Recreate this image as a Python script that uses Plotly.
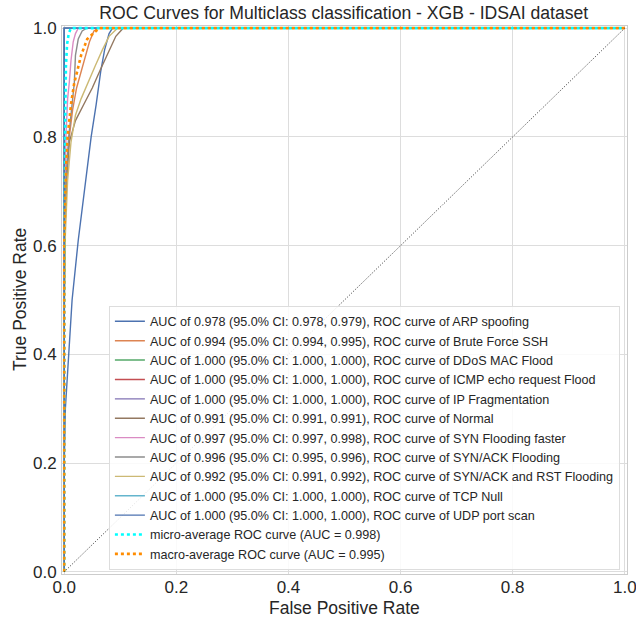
import plotly.graph_objects as go

# ---- data ----
class_names = ["ARP spoofing", "Brute Force SSH", "DDoS MAC Flood", "ICMP echo request Flood",
               "IP Fragmentation", "Normal", "SYN Flooding faster", "SYN/ACK Flooding",
               "SYN/ACK and RST Flooding", "TCP Null", "UDP port scan"]
auc_vals = [0.978, 0.994, 1.000, 1.000, 1.000, 0.991, 0.997, 0.996, 0.992, 1.000, 1.000]
ci_low = [0.978, 0.994, 1.000, 1.000, 1.000, 0.991, 0.997, 0.995, 0.991, 1.000, 1.000]
ci_high = [0.979, 0.995, 1.000, 1.000, 1.000, 0.991, 0.998, 0.996, 0.992, 1.000, 1.000]

fpr_arp = [0, 0, 0.002, 0.007, 0.014, 0.025, 0.036, 0.048, 0.057, 0.065, 0.072, 0.080, 0.086, 1]
tpr_arp = [0, 0.2, 0.30, 0.39, 0.50, 0.61, 0.70, 0.80, 0.86, 0.92, 0.96, 0.99, 1.0, 1]
fpr_brute = [0, 0, 0.002, 0.005, 0.009, 0.015, 0.022, 0.030, 0.037, 0.045, 0.053, 0.060, 1]
tpr_brute = [0, 0.5, 0.65, 0.74, 0.80, 0.85, 0.89, 0.92, 0.95, 0.975, 0.995, 1.0, 1]
fpr_perfect = [0, 0, 1]
tpr_perfect = [0, 1, 1]
fpr_normal = [0, 0, 0.002, 0.005, 0.009, 0.020, 0.035, 0.050, 0.065, 0.080, 0.092, 0.105, 1]
tpr_normal = [0, 0.5, 0.65, 0.73, 0.79, 0.83, 0.86, 0.89, 0.925, 0.96, 0.985, 1.0, 1]
fpr_synfast = [0, 0, 0.003, 0.006, 0.009, 0.012, 0.016, 0.020, 0.025, 1]
tpr_synfast = [0, 0.6, 0.80, 0.87, 0.90, 0.94, 0.975, 0.99, 1.0, 1]
fpr_synack = [0, 0, 0.003, 0.008, 0.014, 0.018, 0.020, 0.025, 0.032, 0.040, 1]
tpr_synack = [0, 0.6, 0.72, 0.80, 0.86, 0.90, 0.95, 0.98, 0.995, 1.0, 1]
fpr_synrst = [0, 0, 0.002, 0.006, 0.012, 0.020, 0.030, 0.042, 0.055, 0.068, 0.080, 0.095, 1]
tpr_synrst = [0, 0.45, 0.62, 0.72, 0.79, 0.84, 0.87, 0.90, 0.93, 0.96, 0.985, 1.0, 1]

fpr_list = [fpr_arp, fpr_brute, fpr_perfect, fpr_perfect, fpr_perfect, fpr_normal,
            fpr_synfast, fpr_synack, fpr_synrst, fpr_perfect, fpr_perfect]
tpr_list = [tpr_arp, tpr_brute, tpr_perfect, tpr_perfect, tpr_perfect, tpr_normal,
            tpr_synfast, tpr_synack, tpr_synrst, tpr_perfect, tpr_perfect]

fpr_micro = [0, 0, 0.002, 0.003, 0.005, 0.008, 0.012, 0.020, 1]
tpr_micro = [0, 0.5, 0.85, 0.93, 0.97, 0.99, 1.0, 1.0, 1]
auc_micro = 0.998
fpr_macro = [0, 0, 0.003, 0.006, 0.012, 0.018, 0.023, 0.030, 0.041, 0.052, 0.062, 0.070, 1]
tpr_macro = [0, 0.6, 0.74, 0.80, 0.86, 0.90, 0.92, 0.95, 0.98, 0.99, 1.0, 1.0, 1]
auc_macro = 0.995

diag = [0, 1]
ticks = [0.0, 0.2, 0.4, 0.6, 0.8, 1.0]
tick_text = ["0.0", "0.2", "0.4", "0.6", "0.8", "1.0"]

palette = ["#4C72B0", "#DD8452", "#55A868", "#C44E52", "#8172B3", "#937860",
           "#DA8BC3", "#8C8C8C", "#CCB974", "#64B5CD", "#4C72B0"]

fig = go.Figure()
for i, name in enumerate(class_names):
    fig.add_trace(go.Scatter(
        x=fpr_list[i], y=tpr_list[i], mode="lines",
        line=dict(color=palette[i], width=1.4),
        name=f"AUC of {auc_vals[i]:.3f} (95.0% CI: {ci_low[i]:.3f}, {ci_high[i]:.3f}), ROC curve of {name}",
    ))
fig.add_trace(go.Scatter(x=fpr_micro, y=tpr_micro, mode="lines",
                         line=dict(color="#00FFFF", width=2.6, dash="dot"),
                         name=f"micro-average ROC curve (AUC = {auc_micro:.3f})"))
fig.add_trace(go.Scatter(x=fpr_macro, y=tpr_macro, mode="lines",
                         line=dict(color="#FF8C00", width=2.6, dash="dot"),
                         name=f"macro-average ROC curve (AUC = {auc_macro:.3f})"))
fig.add_trace(go.Scatter(x=diag, y=diag, mode="lines",
                         line=dict(color="#333333", width=1, dash="1px,1.7px"),
                         showlegend=False, hoverinfo="skip"))

font_family = "Liberation Sans, Arial, sans-serif"
axis_common = dict(
    range=[-0.004, 1.004], tickvals=ticks, ticktext=tick_text,
    showgrid=True, gridcolor="#DDDDDD", gridwidth=1, automargin=False,
    zeroline=False, showline=True, linecolor="#CCCCCC", linewidth=1, mirror=True,
    ticks="", ticklabeloverflow="allow",
    tickfont=dict(size=17, color="#262626", family=font_family),
)
fig.update_layout(
    width=636, height=618,
    margin=dict(l=62, r=9, t=26, b=44),
    paper_bgcolor="white", plot_bgcolor="white",
    font=dict(family=font_family, color="#262626"),
    title=dict(text="ROC Curves for Multiclass classification - XGB - IDSAI dataset",
               x=0.5405, xanchor="center", y=0.979, yanchor="middle",
               font=dict(size=17.6, color="#262626")),
    xaxis=dict(**axis_common, ticklabelstandoff=-2),
    yaxis=dict(**axis_common, ticklabelstandoff=1),
    legend=dict(x=0.083, y=0.008, xanchor="left", yanchor="bottom",
                bgcolor="rgba(255,255,255,0.85)", bordercolor="#DDDDDD", borderwidth=1,
                font=dict(size=12.6, color="#262626"), tracegroupgap=0, itemwidth=30),
    showlegend=True,
    annotations=[
        dict(text="False Positive Rate", xref="paper", yref="paper", x=0.5, y=-0.04,
             xanchor="center", yanchor="top", showarrow=False,
             font=dict(size=17.5, color="#262626")),
        dict(text="True Positive Rate", xref="paper", yref="paper", x=-0.0743, y=0.5,
             xanchor="center", yanchor="middle", showarrow=False, textangle=-90,
             font=dict(size=17.5, color="#262626")),
    ],
)

fig.write_html("out.html", config={"displayModeBar": False},
               post_script="document.body.style.margin='0';document.body.style.overflow='hidden';")
